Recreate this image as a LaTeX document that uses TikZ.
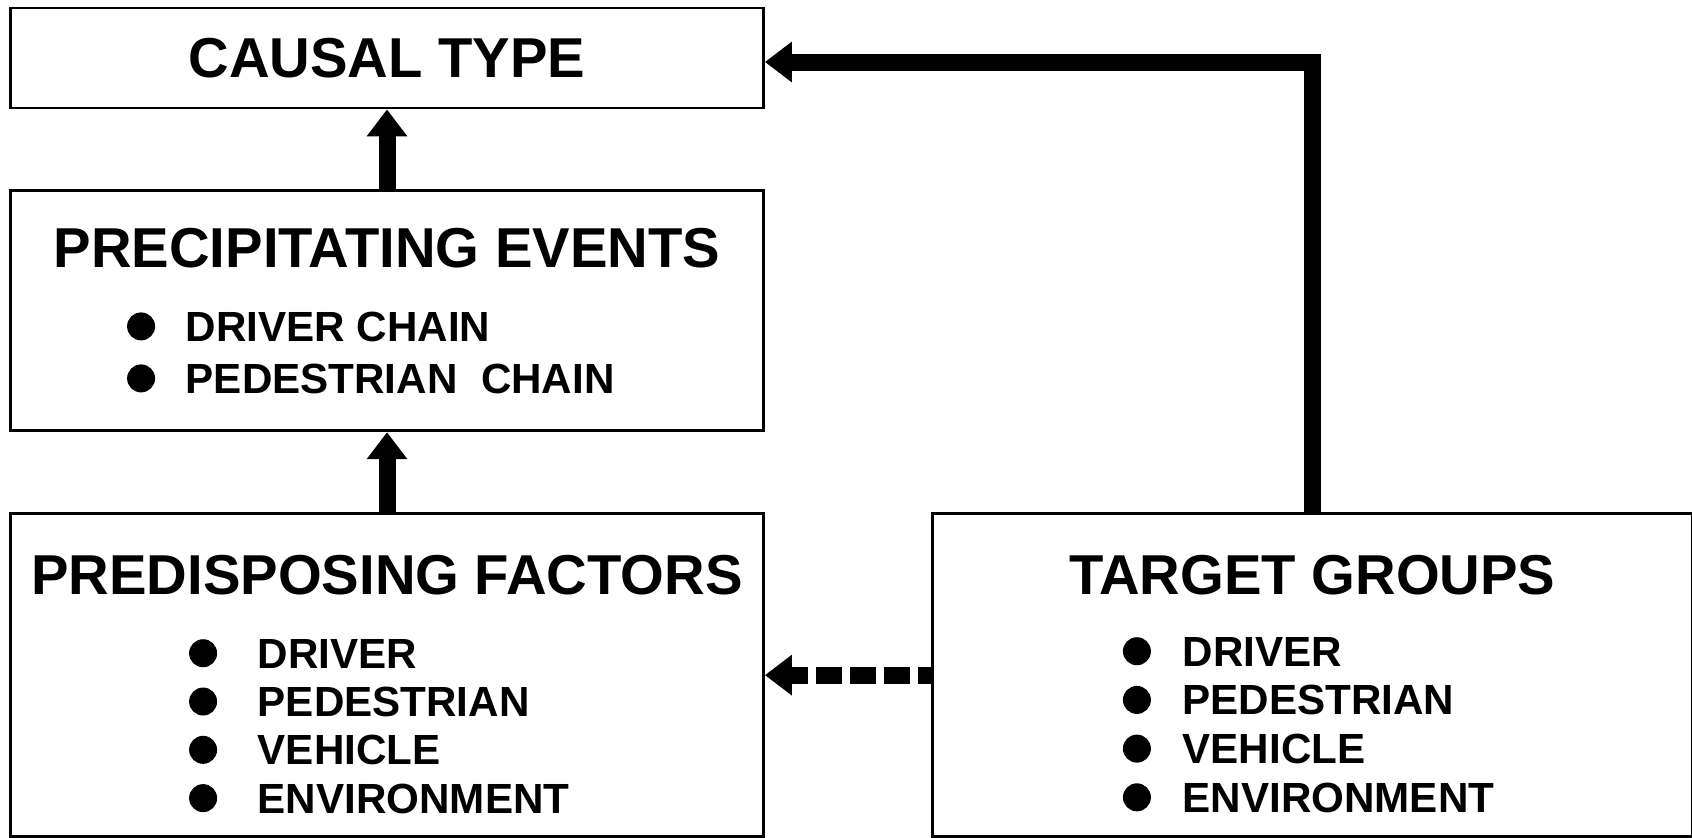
\documentclass[tikz,border=0pt]{standalone}
\usepackage{fontspec}
\setmainfont{Liberation Sans}
\usetikzlibrary{positioning,arrows.meta}

\begin{document}
\begin{tikzpicture}[
    node distance=8mm,
    box/.style={rectangle, draw, line width=0.8pt, minimum width=75.3mm, inner sep=0pt},
    title/.style={font=\fontsize{16}{19}\selectfont\bfseries},
    item/.style={font=\fontsize{12}{14}\selectfont\bfseries, inner sep=0pt, anchor=base west},
    fatarrow/.style={line width=1.7mm, -{Triangle[width=3.9mm,length=2.7mm]}}
]
\useasboundingbox (0,0) rectangle (16.92,-8.37);

% Boxes
\node[box, title, minimum height=10mm] (causal) at (3.87,-0.58) {CAUSAL TYPE};
\node[box, minimum height=24mm, below=of causal] (precip) {};
\node[box, minimum height=32.3mm, below=of precip] (predis) {};
\node[box, minimum width=76mm, minimum height=32.3mm, right=16.6mm of predis] (target) {};

% Titles
\node[title, anchor=base] (precipT) at ([yshift=-7.8mm]precip.north) {PRECIPITATING EVENTS};
\node[title, anchor=base] (predisT) at ([yshift=-8.2mm]predis.north) {PREDISPOSING FACTORS};
\node[title, anchor=base] (targetT) at ([yshift=-8.2mm]target.north) {TARGET GROUPS};

% Bullet lists
\foreach \txt [count=\i] in {DRIVER CHAIN, PEDESTRIAN\ \ CHAIN} {
  \node[item] (pe\i) at ([xshift=17.6mm, yshift={-15.2mm-(\i-1)*5.2mm}]precip.north west) {\txt};
  \fill ([xshift=-4.4mm, yshift=1.5mm]pe\i.base west) circle (1.4mm);
}
\foreach \txt [count=\i] in {DRIVER, PEDESTRIAN, VEHICLE, ENVIRONMENT} {
  \node[item] (pf\i) at ([xshift=24.8mm, yshift={-15.6mm-(\i-1)*4.83mm}]predis.north west) {\txt};
  \fill ([xshift=-5.4mm, yshift=1.5mm]pf\i.base west) circle (1.4mm);
  \node[item] (tg\i) at ([xshift=25.1mm, yshift={-15.4mm-(\i-1)*4.87mm}]target.north west) {\txt};
  \fill ([xshift=-4.5mm, yshift=1.5mm]tg\i.base west) circle (1.4mm);
}

% Arrows
\draw[fatarrow] (precip) -- (causal);
\draw[fatarrow] (predis) -- (precip);
\draw[fatarrow] (target) |- ([yshift=-0.4mm]causal.east);
\draw[fatarrow, dash pattern=on 2.6mm off 0.8mm, dash phase=1.3mm] (target) -- (predis);

\end{tikzpicture}
\end{document}
